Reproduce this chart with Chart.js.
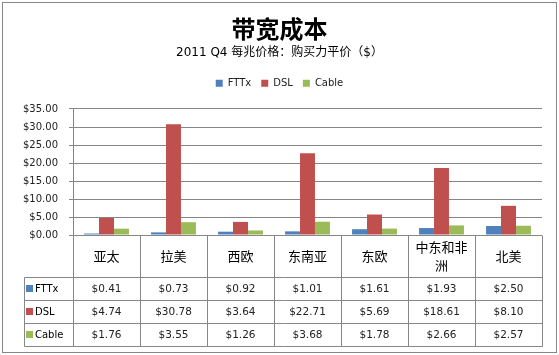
<!DOCTYPE html>
<html><head><meta charset="utf-8">
<script src="https://cdn.jsdelivr.net/npm/chart.js"></script>
<style>html,body{margin:0;padding:0;background:#fff;overflow:hidden;}</style>
</head><body>
<canvas id="c" width="559" height="355" style="display:block;width:559px;height:355px"></canvas>
<script>
// ---- data ----
const categories = ['亚太','拉美','西欧','东南亚','东欧',['中东和非','洲'],'北美'];
const seriesNames = ['FTTx','DSL','Cable'];
const fttx  = [0.41, 0.73, 0.92, 1.01, 1.61, 1.93, 2.50];
const dsl   = [4.74, 30.78, 3.64, 22.71, 5.69, 18.61, 8.10];
const cable = [1.76, 3.55, 1.26, 3.68, 1.78, 2.66, 2.57];
const yTicks = [0, 5, 10, 15, 20, 25, 30, 35];
const titleText = '带宽成本';
const subtitleText = '2011 Q4 每兆价格：购买力平价（$）';

const colors = ['#4F81BD', '#C0504D', '#9BBB59'];
const seriesValues = [fttx, dsl, cable];
const lineColor = '#878787';
const fmt = v => '$' + v.toFixed(2);

const frame = {
  id: 'frame',
  beforeDraw(chart) {
    const ctx = chart.ctx;
    ctx.save();
    ctx.fillStyle = '#fff';
    ctx.fillRect(0, 0, chart.width, chart.height);
    ctx.strokeStyle = lineColor;
    ctx.lineWidth = 1;
    ctx.strokeRect(2.5, 2.5, chart.width - 5, chart.height - 5);
    ctx.restore();
  }
};

const dataTable = {
  id: 'dataTable',
  afterDraw(chart, args, opts) {
    const ctx = chart.ctx;
    const xs = chart.scales.x, ys = chart.scales.y;
    const n = categories.length;
    const step = xs.getPixelForValue(1) - xs.getPixelForValue(0);
    const left = xs.getPixelForValue(0) - step / 2;
    const right = left + step * n;
    const top = ys.getPixelForValue(0);
    const hb = top + opts.headerHeight;
    const rh = opts.rowHeight;
    const bottom = hb + rh * seriesNames.length;
    const tl = opts.tableLeft;
    const px = v => Math.round(v) + 0.5;
    ctx.save();
    ctx.strokeStyle = lineColor;
    ctx.lineWidth = 1;
    ctx.beginPath();
    for (let k = 0; k <= n; k++) {
      const x = px(left + k * step);
      ctx.moveTo(x, px(top)); ctx.lineTo(x, px(bottom));
    }
    ctx.moveTo(px(tl), px(hb)); ctx.lineTo(px(tl), px(bottom));
    for (let j = 0; j <= seriesNames.length; j++) {
      const y = px(hb + j * rh);
      ctx.moveTo(px(tl), y); ctx.lineTo(px(right), y);
    }
    ctx.stroke();

    // header: categories
    ctx.fillStyle = '#000';
    ctx.textAlign = 'center';
    ctx.textBaseline = 'middle';
    ctx.font = "13px 'Noto Sans CJK SC'";
    categories.forEach((c, i) => {
      const cx = xs.getPixelForValue(i);
      const lines = Array.isArray(c) ? c : [c];
      const cy = (top + hb) / 2;
      lines.forEach((l, li) => {
        ctx.fillText(l, cx, cy + (li - (lines.length - 1) / 2) * opts.lineSpacing);
      });
    });

    // rows
    seriesNames.forEach((s, j) => {
      const cy = hb + j * rh + rh / 2;
      ctx.fillStyle = colors[j];
      ctx.fillRect(tl + 2, Math.round(cy - 3.5), 7, 7);
      ctx.fillStyle = '#000';
      ctx.textAlign = 'left';
      ctx.font = "10px 'DejaVu Sans'";
      ctx.fillText(s, tl + 11, cy + 0.5);
      ctx.textAlign = 'center';
      ctx.font = "10.5px 'DejaVu Sans'";
      ctx.fillStyle = '#222';
      seriesValues[j].forEach((v, i) => {
        ctx.fillText(fmt(v), xs.getPixelForValue(i), cy + 0.5);
      });
    });
    ctx.restore();
  }
};

new Chart(document.getElementById('c'), {
  type: 'bar',
  data: {
    labels: categories,
    datasets: seriesNames.map((name, j) => ({
      label: name,
      data: seriesValues[j],
      backgroundColor: colors[j],
      borderWidth: 0,
      categoryPercentage: 0.67,
      barPercentage: 1.0,
      xAxisID: 'x',
      yAxisID: 'y'
    }))
  },
  options: {
    responsive: false,
    devicePixelRatio: 1,
    animation: false,
    layout: { padding: { left: 0, right: 0, top: 0, bottom: 0 } },
    plugins: {
      title: {
        display: true, text: titleText, color: '#000',
        font: { family: "'Noto Sans CJK SC'", size: 24, weight: 'bold', lineHeight: 1.2 },
        padding: { top: 14, bottom: 0 }
      },
      subtitle: {
        display: true, text: subtitleText, color: '#000',
        font: { family: "'DejaVu Sans','Noto Sans CJK SC'", size: 12, lineHeight: 1.2 },
        padding: { top: 3, bottom: 8 }
      },
      legend: {
        display: true, position: 'top',
        labels: { boxWidth: 7, boxHeight: 7, padding: 10, color: '#222',
          font: { family: "'DejaVu Sans'", size: 10 } }
      },
      tooltip: { enabled: false },
      dataTable: { headerHeight: 42, rowHeight: 23, tableLeft: 24, lineSpacing: 17.5 }
    },
    scales: {
      xTop: {
        type: 'category', position: 'top', display: true,
        ticks: { display: false }, grid: { display: false }, border: { display: false },
        afterFit: s => { s.height = 10.8; }
      },
      x: {
        type: 'category', position: 'bottom', offset: true,
        ticks: { display: false }, grid: { display: false }, border: { display: false },
        afterFit: s => { s.height = 120; }
      },
      y: {
        min: 0, max: 35,
        afterBuildTicks: s => { s.ticks = yTicks.map(v => ({ value: v })); },
        ticks: { callback: v => fmt(v), color: '#222', padding: 11,
          font: { family: "'DejaVu Sans'", size: 10 } },
        grid: { color: '#868686', tickLength: 4, drawTicks: true },
        border: { display: true, color: '#868686' },
        afterFit: s => { s.width = 73; }
      },
      yRight: {
        type: 'linear', position: 'right', display: true, min: 0, max: 35,
        ticks: { display: false }, grid: { display: false }, border: { display: false },
        afterFit: s => { s.width = 17; }
      }
    }
  },
  plugins: [frame, dataTable]
});
</script>
</body></html>
